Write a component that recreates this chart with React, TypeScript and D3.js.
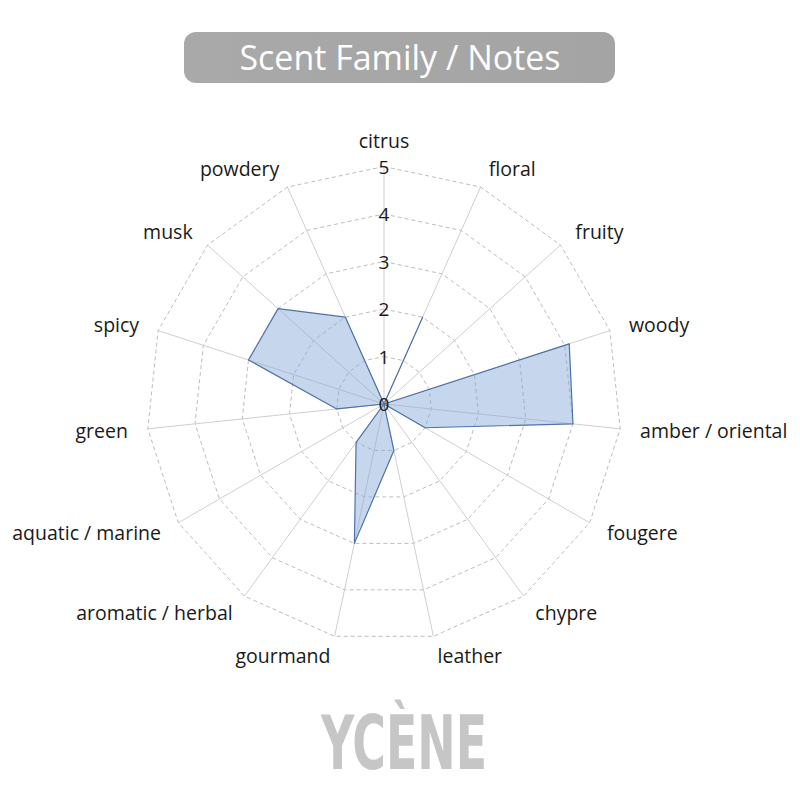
import * as d3 from "d3";

const categories = [
  "citrus",
  "floral",
  "fruity",
  "woody",
  "amber / oriental",
  "fougere",
  "chypre",
  "leather",
  "gourmand",
  "aromatic / herbal",
  "aquatic / marine",
  "green",
  "spicy",
  "musk",
  "powdery",
];
const values = [0, 2, 0, 4.1, 4, 1, 0, 1, 3, 1, 0, 1, 3, 3, 2];
const ticks = [0, 1, 2, 3, 4, 5];

export default function App() {
  const width = 800;
  const height = 800;
  const cx = 384;
  const cy = 404;
  const r = d3.scaleLinear().domain([0, 5]).range([0, 237.5]);
  const step = (2 * Math.PI) / categories.length;
  const angle = (i: number) => i * step;

  const radial = d3
    .lineRadial<number>()
    .angle((_, i) => angle(i))
    .radius((d) => r(d))
    .curve(d3.curveLinearClosed);

  const pt = (i: number, rad: number) => [Math.sin(angle(i)) * rad, -Math.cos(angle(i)) * rad];

  return (
    <svg
      width={width}
      height={height}
      viewBox={`0 0 ${width} ${height}`}
      style={{ position: "absolute", left: 0, top: 0, background: "#ffffff" }}
      fontFamily="'Open Sans', 'Noto Sans', sans-serif"
    >
      <defs>
        <linearGradient id="titleGrad" x1="0" x2="1" y1="0" y2="0">
          <stop offset="0" stopColor="#a9a9a9" />
          <stop offset="1" stopColor="#a4a4a4" />
        </linearGradient>
      </defs>
      <rect x={184} y={32} width={431} height={51} rx={12} fill="url(#titleGrad)" />
      <text
        x={400}
        y={70}
        fill="#ffffff"
        fontSize={34}
        fontWeight={400}
        textAnchor="middle"
        textLength={321}
        lengthAdjust="spacingAndGlyphs"
      >
        Scent Family / Notes
      </text>

      <g transform={`translate(${cx},${cy})`}>
        {ticks.slice(1).map((t) => (
          <path
            key={t}
            d={radial(categories.map(() => t)) ?? ""}
            fill="none"
            stroke="#bdbdbd"
            strokeWidth={1}
            strokeDasharray="4 3"
          />
        ))}
        {categories.map((c, i) => {
          const [x, y] = pt(i, r(5));
          return <line key={c} x1={0} y1={0} x2={x} y2={y} stroke="#cfcfcf" strokeWidth={1} />;
        })}
        <path
          d={radial(values) ?? ""}
          fill="rgba(130,165,215,0.46)"
          stroke="#4f72a8"
          strokeWidth={1.2}
          strokeLinejoin="round"
        />
        {ticks.map((t) => (
          <text
            key={t}
            x={0}
            y={-r(t)}
            fontSize={19}
            fill="#1a1a1a"
            textAnchor="middle"
            dominantBaseline="central"
          >
            {t}
          </text>
        ))}
        {categories.map((c, i) => {
          const [x, y] = pt(i, r(5) + 20);
          const s = Math.sin(angle(i));
          const anchor = Math.abs(s) < 0.05 ? "middle" : s > 0 ? "start" : "end";
          return (
            <text
              key={c}
              x={x}
              y={i === 0 ? y - 6 : y}
              fontSize={19.5}
              fill="#1a1a1a"
              textAnchor={anchor}
              dominantBaseline="central"
            >
              {c}
            </text>
          );
        })}
      </g>

      <text
        x={404}
        y={769}
        fill="#c6c6c6"
        fontSize={75}
        fontWeight={700}
        fontFamily="'Liberation Sans Narrow', 'DejaVu Sans Condensed', sans-serif"
        textAnchor="middle"
        textLength={166}
        lengthAdjust="spacingAndGlyphs"
      >
        YCÈNE
      </text>
    </svg>
  );
}
